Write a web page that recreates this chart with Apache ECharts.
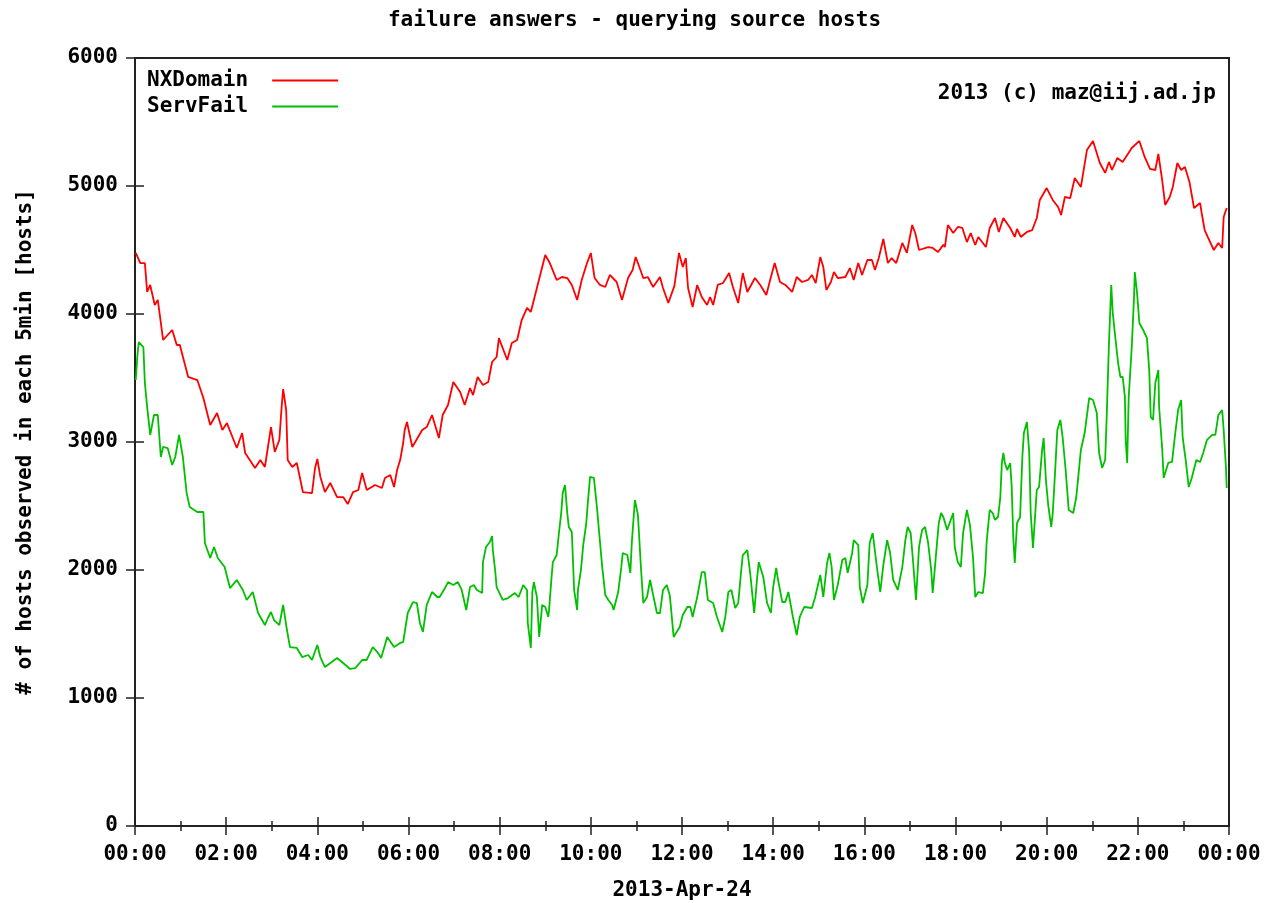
<!DOCTYPE html>
<html>
<head>
<meta charset="utf-8">
<script src="https://cdn.jsdelivr.net/npm/echarts@6/dist/echarts.min.js"></script>
<style>html,body{margin:0;padding:0;background:#fff}#c{width:1269px;height:903px}</style>
</head>
<body>
<div id="c"></div>
<script>
// minutes since 00:00 on 2013-Apr-24, and hosts per 5min
const nxTimes = [1,7,13,16,20,26,30,37,49,55,59,70,82,90,99,108,115,121,134,141,145,158,165,171,175,179,184,190,193,195,199,201,207,213,221,233,237,240,244,250,257,266,274,280,287,294,299,305,316,325,329,336,341,345,349,353,355,358,365,378,384,391,400,405,412,419,428,434,441,445,451,458,465,470,476,479,490,496,503,509,516,521,529,540,546,555,562,569,575,582,588,595,600,605,612,619,625,634,641,649,655,659,662,669,675,682,691,695,702,710,716,721,725,728,734,740,746,753,757,761,767,774,782,787,794,800,806,816,823,831,836,842,849,856,865,871,878,886,891,896,902,906,910,916,920,925,935,941,946,952,957,964,970,974,979,985,991,996,1002,1010,1012,1016,1023,1027,1032,1044,1050,1057,1064,1066,1070,1077,1083,1089,1095,1100,1106,1110,1120,1125,1132,1137,1143,1152,1158,1161,1166,1174,1181,1187,1191,1200,1208,1215,1219,1224,1231,1237,1245,1253,1261,1270,1277,1282,1286,1293,1300,1312,1322,1329,1336,1343,1347,1352,1356,1362,1366,1372,1377,1382,1388,1394,1402,1404,1408,1412,1420,1426,1431,1433,1437];
const nxValues = [4477,4398,4398,4172,4227,4070,4110,3797,3875,3758,3758,3508,3484,3344,3133,3227,3094,3148,2953,3070,2914,2797,2859,2805,2961,3117,2922,3016,3273,3414,3250,2859,2805,2836,2609,2601,2797,2867,2727,2609,2680,2570,2570,2515,2609,2625,2758,2625,2664,2641,2719,2742,2648,2781,2859,2992,3094,3156,2961,3094,3117,3211,3031,3211,3289,3469,3391,3289,3422,3367,3508,3445,3469,3625,3664,3812,3641,3773,3797,3953,4047,4016,4203,4461,4398,4266,4289,4281,4227,4109,4266,4398,4477,4281,4227,4211,4305,4250,4109,4281,4344,4445,4398,4281,4289,4211,4289,4203,4086,4220,4477,4367,4437,4203,4055,4227,4133,4070,4133,4070,4227,4242,4320,4211,4086,4320,4172,4281,4227,4148,4266,4398,4250,4227,4172,4289,4250,4266,4305,4242,4445,4367,4188,4250,4328,4281,4289,4359,4266,4398,4305,4422,4422,4344,4437,4586,4398,4437,4398,4555,4562,4477,4695,4633,4500,4523,4516,4484,4540,4523,4695,4633,4680,4672,4562,4633,4539,4602,4523,4672,4750,4641,4750,4672,4602,4664,4602,4641,4656,4750,4891,4984,4891,4836,4773,4914,4906,5062,4992,5281,5352,5180,5102,5188,5125,5219,5188,5297,5352,5227,5133,5125,5250,5047,4852,4914,4992,5180,5125,5148,5031,4828,4867,4789,4656,4602,4500,4555,4516,4758,4828];
const sfTimes = [1,3,5,11,13,16,20,25,30,34,37,43,49,53,58,63,68,72,82,90,92,99,104,109,118,125,134,142,147,155,162,171,175,179,183,190,195,200,204,213,220,228,233,240,244,250,259,266,274,283,290,299,305,313,319,324,332,341,349,353,359,366,371,375,379,384,391,398,401,408,412,419,425,430,436,441,446,450,457,458,462,467,470,471,474,476,484,491,500,505,511,516,517,521,523,525,529,532,536,540,544,545,548,550,555,558,561,563,566,569,571,575,578,582,583,587,590,594,596,599,604,608,611,615,619,623,628,630,636,640,642,648,652,654,658,662,666,669,674,678,682,687,691,695,700,704,709,717,721,727,731,734,740,746,750,754,761,766,773,777,781,785,790,794,798,800,806,810,815,819,821,827,832,837,840,844,846,852,856,860,866,871,875,881,891,895,902,906,911,914,917,920,925,931,935,938,944,946,952,954,958,964,967,971,977,981,985,990,994,998,1004,1010,1014,1017,1021,1024,1028,1032,1036,1040,1044,1048,1050,1056,1058,1061,1064,1069,1077,1079,1083,1087,1090,1095,1099,1103,1106,1110,1116,1119,1121,1125,1129,1132,1136,1139,1141,1143,1145,1148,1152,1154,1156,1158,1161,1165,1168,1170,1174,1177,1179,1182,1185,1187,1190,1194,1196,1199,1202,1206,1208,1211,1214,1218,1221,1225,1229,1235,1239,1245,1250,1256,1261,1266,1269,1273,1277,1279,1282,1285,1287,1290,1294,1297,1300,1303,1304,1306,1308,1312,1315,1316,1319,1322,1327,1332,1335,1337,1340,1343,1347,1348,1352,1354,1360,1365,1369,1373,1377,1379,1383,1387,1391,1397,1402,1406,1411,1418,1422,1426,1431,1433,1436,1437];
const sfValues = [3484,3664,3781,3742,3461,3273,3055,3211,3211,2883,2961,2953,2820,2883,3055,2883,2601,2492,2453,2453,2211,2094,2180,2094,2023,1859,1922,1844,1766,1828,1664,1570,1625,1672,1609,1570,1727,1531,1398,1391,1320,1336,1297,1414,1320,1242,1281,1312,1273,1227,1234,1297,1297,1398,1359,1312,1477,1398,1430,1437,1664,1750,1742,1586,1516,1727,1828,1789,1789,1859,1906,1883,1906,1844,1687,1867,1883,1844,1820,2062,2180,2219,2266,2156,2000,1867,1766,1781,1820,1789,1883,1844,1586,1391,1828,1906,1789,1477,1727,1711,1633,1687,1922,2062,2117,2289,2445,2601,2664,2445,2336,2297,1844,1687,1844,2000,2195,2367,2523,2727,2719,2492,2289,2023,1805,1766,1727,1687,1828,2016,2133,2117,1977,2219,2547,2430,2016,1742,1789,1922,1805,1664,1664,1844,1883,1800,1477,1555,1648,1711,1711,1633,1789,1984,1984,1766,1742,1633,1516,1633,1828,1844,1703,1742,2000,2117,2156,1961,1664,1945,2062,1945,1742,1664,1867,2016,1937,1750,1750,1828,1633,1492,1633,1711,1703,1781,1961,1789,2055,2133,2023,1766,1883,2078,2094,1977,2133,2234,2195,1867,1742,1883,2211,2289,2000,1828,2039,2234,2133,1922,1844,2023,2234,2336,2289,2078,1766,2180,2312,2336,2211,2000,1820,2234,2367,2445,2414,2312,2445,2180,2062,2023,2289,2469,2352,2102,1789,1828,1820,1977,2219,2469,2445,2391,2414,2570,2836,2914,2836,2781,2836,2648,2258,2055,2367,2414,2883,3070,3156,2922,2445,2172,2445,2625,2648,2937,3031,2703,2508,2336,2445,2758,3094,3172,3039,2781,2469,2445,2570,2937,3070,3344,3328,3227,2914,2797,2859,3195,3773,4227,4008,3836,3617,3508,3508,3352,3016,2836,3352,3742,4133,4328,4164,3930,3875,3812,3562,3195,3172,3461,3562,3273,2953,2719,2836,2844,3055,3250,3328,3039,2859,2648,2719,2859,2844,2914,3016,3055,3055,3211,3250,3094,2797,2641];
const yTicks = [0,1000,2000,3000,4000,5000,6000];
const xTickHours = ['00:00','02:00','04:00','06:00','08:00','10:00','12:00','14:00','16:00','18:00','20:00','22:00','00:00'];

const FONT = 'DejaVu Sans Mono';
const txt = {fontFamily: FONT, fontWeight: 'bold', fontSize: 21, color: '#000'};
const pair = (ts, vs) => ts.map((t, i) => [t, vs[i]]);

const chart = echarts.init(document.getElementById('c'), null, {renderer: 'canvas'});
const tickCommon = {inside: true, length: 9, lineStyle: {color: '#222', width: 1.5}};
const minorCommon = {show: true, splitNumber: 2, length: 5, lineStyle: {color: '#222', width: 1.5}};
chart.setOption({
  animation: false,
  backgroundColor: '#fff',
  title: [
    {text: 'failure answers - querying source hosts', left: 'center', top: 5, textStyle: txt},
    {text: '2013 (c) maz@iij.ad.jp', right: 48, top: 78, textStyle: txt}
  ],
  legend: {
    orient: 'vertical', left: 142, top: 65, align: 'right', itemGap: 5,
    itemWidth: 66, itemHeight: 2, icon: 'rect',
    textStyle: Object.assign({}, txt, {padding: [0, 19, 0, 0]}),
    data: ['NXDomain', 'ServFail']
  },
  grid: {left: 135, right: 40, top: 58, bottom: 77, outerBoundsMode: 'none', containLabel: false,
         show: true, borderColor: '#222', borderWidth: 2, backgroundColor: 'transparent'},
  xAxis: [{
    type: 'value', min: 0, max: 1440, interval: 120,
    name: '2013-Apr-24', nameLocation: 'middle', nameGap: 54, nameTextStyle: txt,
    axisLine: {show: true, lineStyle: {color: '#222', width: 2}},
    axisTick: tickCommon, minorTick: minorCommon,
    splitLine: {show: false},
    axisLabel: Object.assign({}, txt, {margin: 18, formatter: v => xTickHours[Math.round(v / 120)]})
  }, {
    type: 'value', min: 0, max: 1440, interval: 120, position: 'top',
    axisLine: {show: false}, axisTick: tickCommon, minorTick: minorCommon,
    splitLine: {show: false}, axisLabel: {show: false}
  }],
  yAxis: [{
    type: 'value', min: yTicks[0], max: yTicks[yTicks.length - 1], interval: 1000,
    name: '# of hosts observed in each 5min [hosts]', nameLocation: 'middle', nameGap: 99,
    nameRotate: 90, nameTextStyle: txt,
    axisLine: {show: true, lineStyle: {color: '#222', width: 2}},
    axisTick: tickCommon, splitLine: {show: false},
    axisLabel: Object.assign({}, txt, {margin: 17, formatter: v => String(v)})
  }, {
    type: 'value', min: 0, max: 6000, interval: 1000, position: 'right',
    axisLine: {show: false}, axisTick: tickCommon,
    splitLine: {show: false}, axisLabel: {show: false}
  }],
  series: [
    {name: 'NXDomain', type: 'line', data: pair(nxTimes, nxValues), symbol: 'none',
     lineStyle: {color: '#ff0000', width: 1.8}, itemStyle: {color: '#ff0000'}},
    {name: 'ServFail', type: 'line', data: pair(sfTimes, sfValues), symbol: 'none',
     lineStyle: {color: '#00c000', width: 1.8}, itemStyle: {color: '#00c000'}}
  ]
});
</script>
</body>
</html>
